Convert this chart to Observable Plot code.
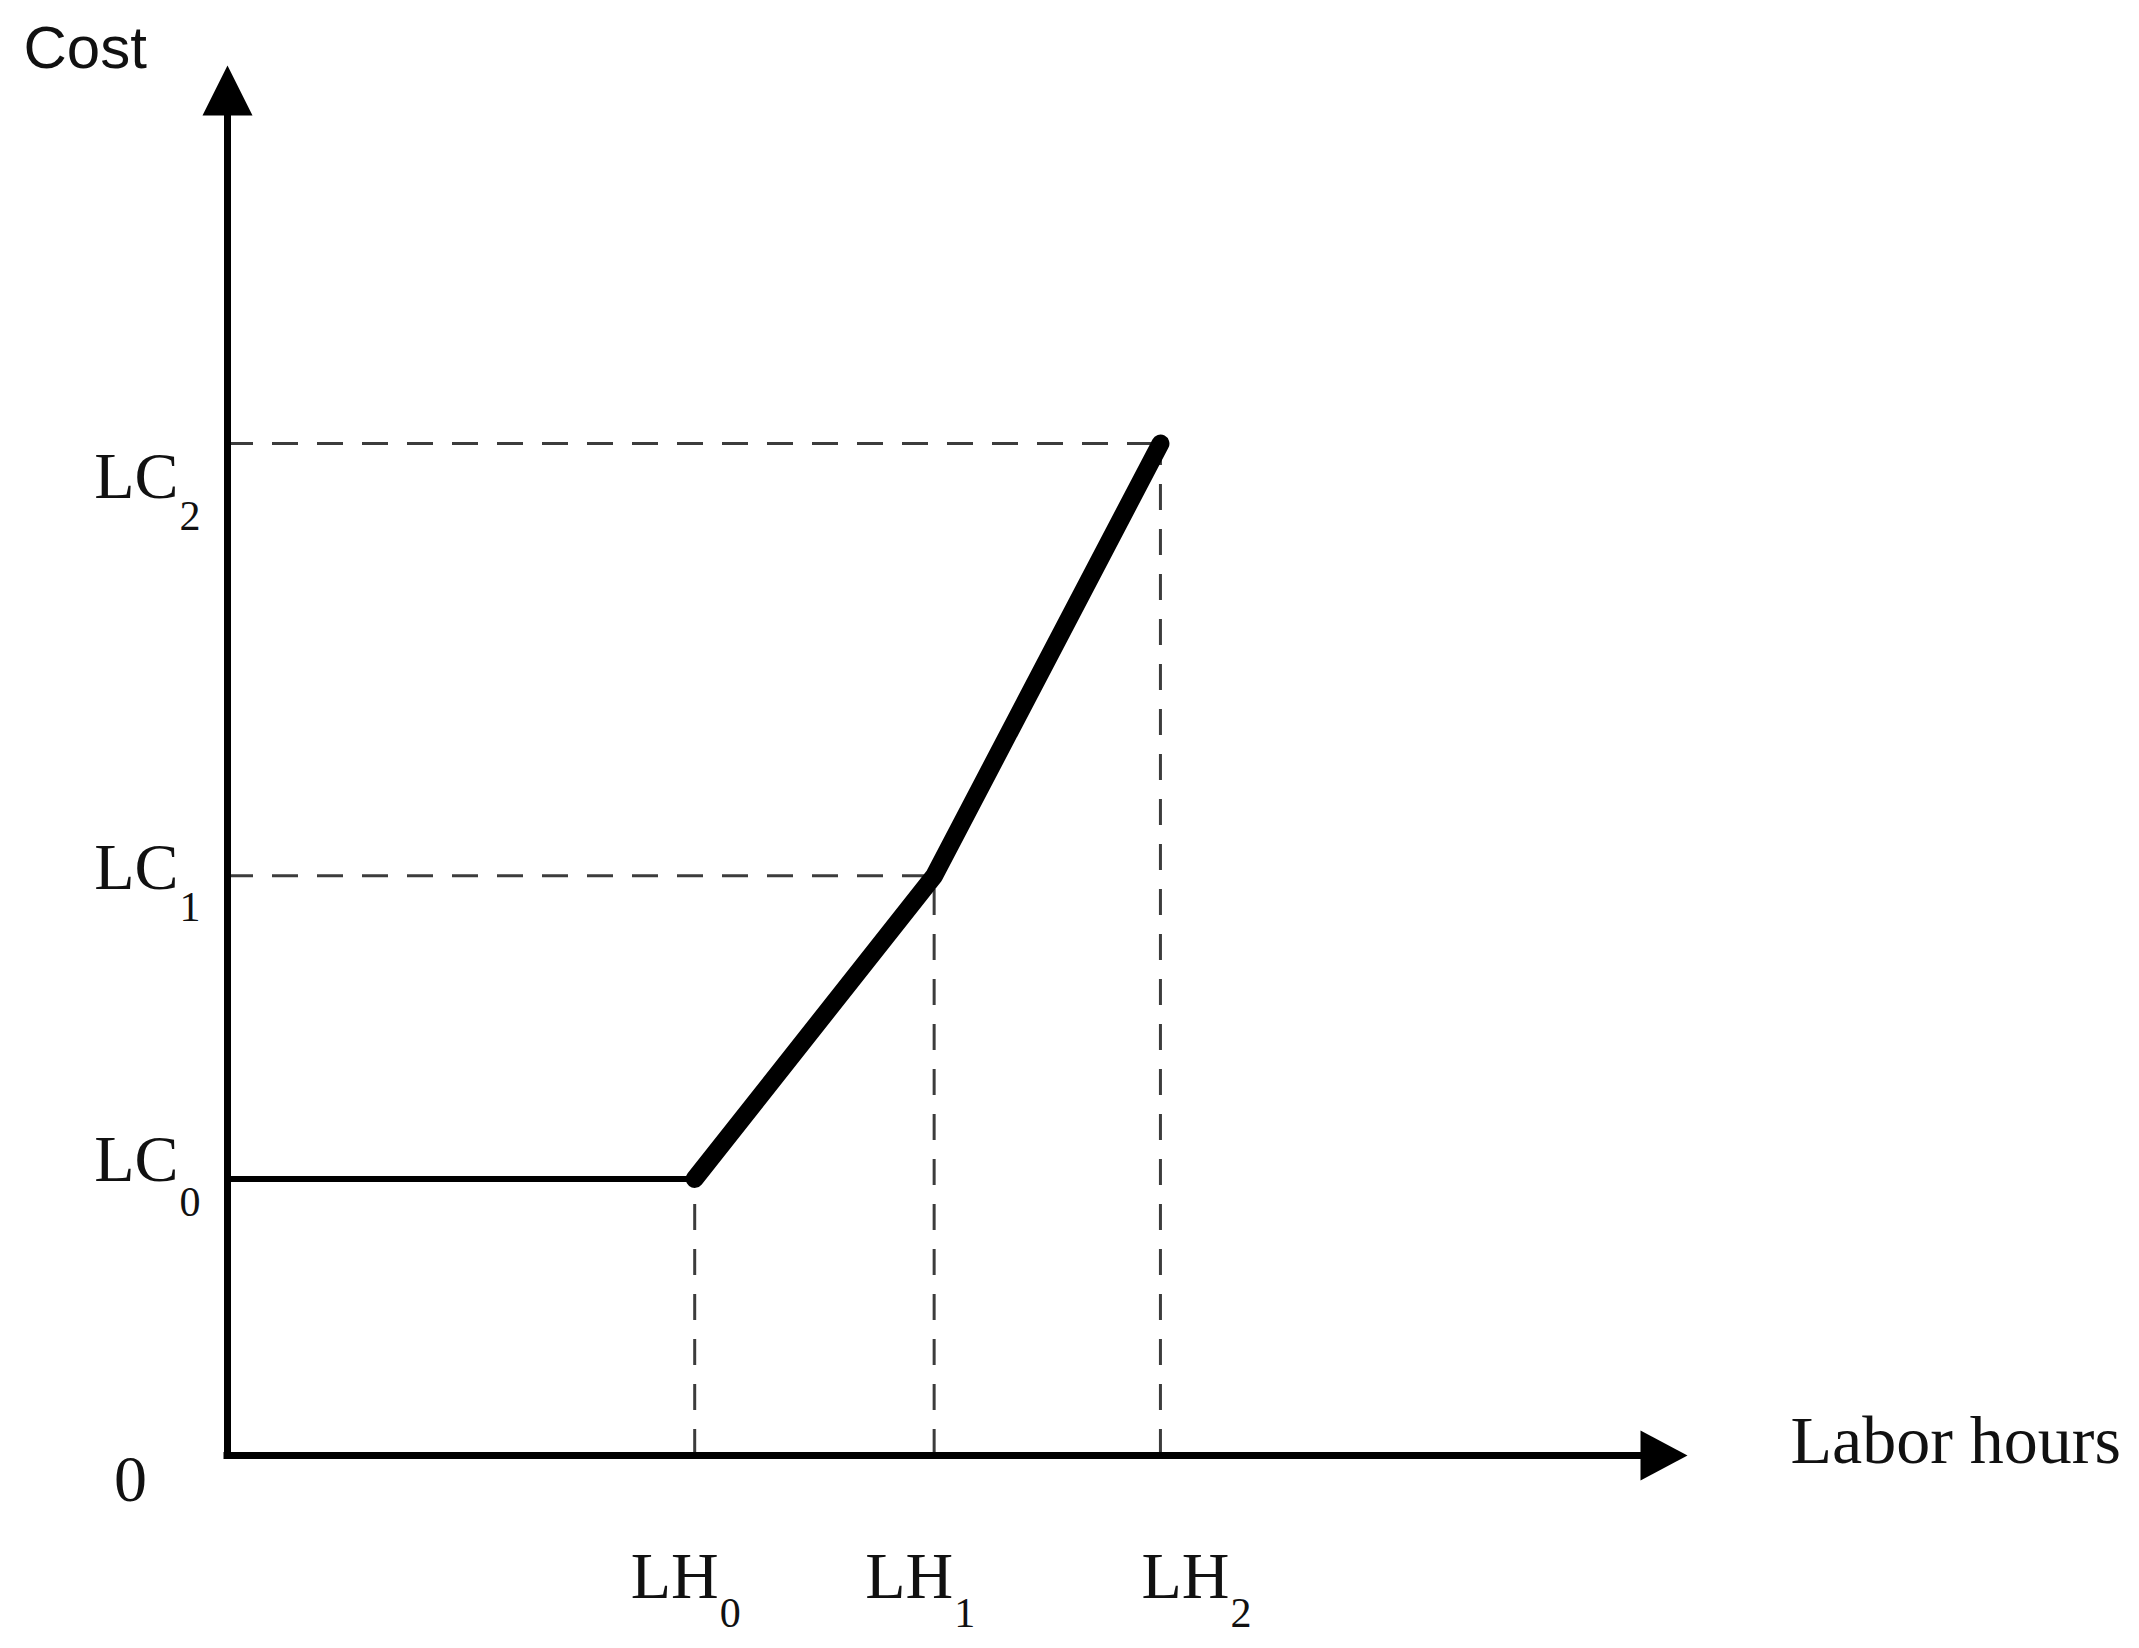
<!DOCTYPE html>
<html><head><meta charset="utf-8">
<script src="https://cdn.jsdelivr.net/npm/d3@7"></script>
<script src="https://cdn.jsdelivr.net/npm/@observablehq/plot@0.6"></script>
<style>html,body{margin:0;padding:0;background:#fff}svg{display:block;background:#fff}</style>
</head><body><div id="chart"></div>
<script>
// ---- data ----
const subscripts = ["0", "1", "2"];
const laborHours = [32, 48.4, 63.9];      // LH0, LH1, LH2 (schematic units)
const laborCosts = [19.9, 41.7, 72.8];    // LC0, LC1, LC2 (schematic units)
const hourBase = "LH";
const costBase = "LC";
const originLabel = "0";
const xTitle = "Labor hours";
const yTitle = "Cost";
const axisMax = 100;

// ---- derived tables ----
const flatSegment = [{h: 0, c: laborCosts[0]}, {h: laborHours[0], c: laborCosts[0]}];
const risingSegment = laborHours.map((h, i) => ({h, c: laborCosts[i]}));
const points = laborHours.map((h, i) => ({h, c: laborCosts[i], s: subscripts[i]}));

// ---- styles ----
const serif = "Liberation Serif, Times New Roman, serif";
const sans = "Liberation Sans, Arial, sans-serif";
const dashStyle = {stroke: "#3c3c3c", strokeWidth: 3, strokeDasharray: "26,19"};
const arrowUp = {draw(ctx, size) { const k = Math.sqrt(size); ctx.moveTo(0, 0); ctx.lineTo(k / 2, k); ctx.lineTo(-k / 2, k); ctx.closePath(); }};
const arrowRight = {draw(ctx, size) { const k = Math.sqrt(size); ctx.moveTo(0, 0); ctx.lineTo(-k * 0.94, -k / 2); ctx.lineTo(-k * 0.94, k / 2); ctx.closePath(); }};
const arrowR = 50 / Math.sqrt(Math.PI);

const lcOff = [{dy: -19, sdy: 24}, {dy: -8, sdy: 32}, {dy: 33, sdy: 73}];
const lhOff = [24, 19, 69];

const marks = [
  // dashed guides
  ...points.slice(1).map(p => Plot.ruleY([p], {y: "c", x1: 0, x2: "h", ...dashStyle})),
  ...points.map(p => Plot.ruleX([p], {x: "h", y1: 0, y2: "c", ...dashStyle})),
  // axes
  Plot.ruleX([0], {x: 0, y1: 0, y2: 97.2, stroke: "black", strokeWidth: 7, strokeLinecap: "square"}),
  Plot.ruleY([0], {y: 0, x1: 0, x2: 97.6, stroke: "black", strokeWidth: 7, strokeLinecap: "square"}),
  Plot.dot([0], {x: 0, y: axisMax, symbol: arrowUp, r: arrowR, fill: "black", stroke: "none"}),
  Plot.dot([0], {x: axisMax, y: 0, symbol: arrowRight, r: arrowR, fill: "black", stroke: "none"}),
  // cost function
  Plot.line(flatSegment, {x: "h", y: "c", stroke: "black", strokeWidth: 6}),
  Plot.line(risingSegment, {x: "h", y: "c", stroke: "black", strokeWidth: 18, strokeLinejoin: "miter"}),
  // cost labels
  ...points.flatMap((p, i) => [
    Plot.text([p], {x: 0, y: "c", text: () => costBase, textAnchor: "end", dx: -49, dy: lcOff[i].dy, fontFamily: serif, fontSize: 66, fill: "#111"}),
    Plot.text([p], {x: 0, y: "c", text: "s", textAnchor: "start", dx: -48, dy: lcOff[i].sdy, fontFamily: serif, fontSize: 42, fill: "#111"})
  ]),
  // hour labels
  ...points.flatMap((p, i) => [
    Plot.text([p], {x: "h", y: 0, text: () => hourBase, textAnchor: "end", dx: lhOff[i], dy: 121, fontFamily: serif, fontSize: 66, fill: "#111"}),
    Plot.text([p], {x: "h", y: 0, text: "s", textAnchor: "start", dx: lhOff[i] + 1, dy: 158, fontFamily: serif, fontSize: 42, fill: "#111"})
  ]),
  Plot.text([originLabel], {x: 0, y: 0, text: d => d, textAnchor: "middle", dx: -97, dy: 24, fontFamily: serif, fontSize: 66, fill: "#111"}),
  Plot.text([xTitle], {x: axisMax, y: 0, text: d => d, textAnchor: "start", dx: 103, dy: -14, fontFamily: serif, fontSize: 68, fill: "#111"}),
  Plot.text([yTitle], {x: 0, y: axisMax, text: d => d, textAnchor: "start", dx: -204, dy: -17, fontFamily: sans, fontSize: 60, fill: "#111"})
];

const chart = Plot.plot({
  width: 2139,
  height: 1648,
  margin: 0,
  style: {background: "#fff", overflow: "visible"},
  x: {domain: [0, axisMax], range: [227, 1687], axis: null},
  y: {domain: [0, axisMax], range: [1455, 65], axis: null},
  marks
});
document.getElementById("chart").appendChild(chart);
</script>
</body></html>
